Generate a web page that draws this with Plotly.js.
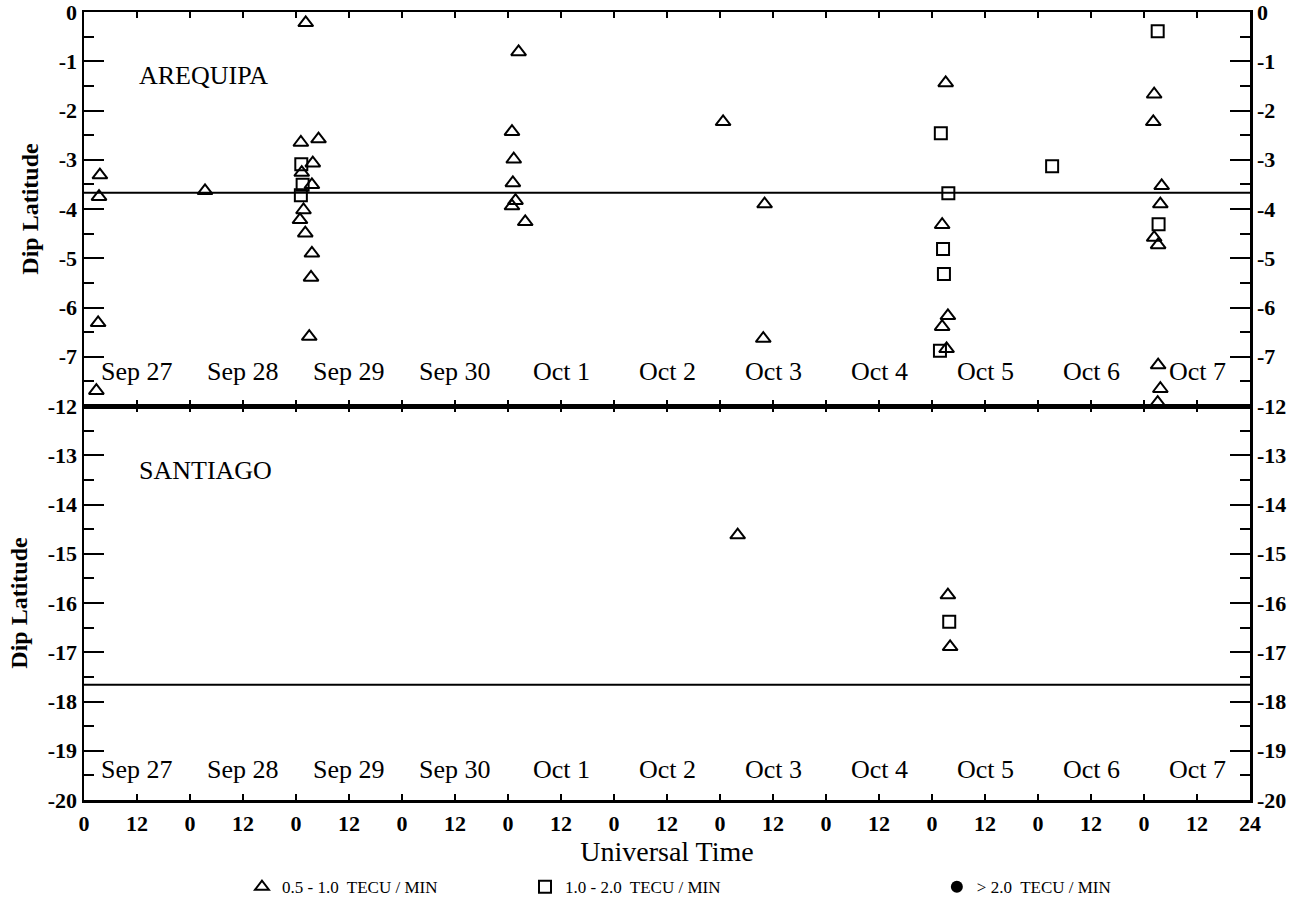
<!DOCTYPE html>
<html>
<head>
<meta charset="utf-8">
<script src="https://cdn.plot.ly/plotly-3.0.1.min.js"></script>
<style>
html,body{margin:0;padding:0;background:#fff;}
#chart{width:1303px;height:909px;}
</style>
</head>
<body>
<div id="chart"></div>
<script>
// ---- Data (hours since Sep 27 00 UT, dip latitude in degrees) ----
// Arequipa, 0.5 - 1.0 TECU/min (triangles)
const areqTriHours = [3.6, 3.4, 3.2, 2.8, 27.4, 50.2, 49.1, 53.1, 51.8, 49.3, 51.6, 49.7, 48.9, 50.1, 51.6, 51.4, 51.0,
  98.4, 96.9, 97.3, 97.1, 97.7, 96.9, 99.9, 144.7, 154.1, 153.8,
  195.1, 194.3, 195.6, 194.3, 195.3, 242.3, 242.1, 244.0, 243.7, 242.3, 243.2, 243.2, 243.7, 243.1];
const areqTriLat = [-3.31, -3.75, -6.31, -7.69, -3.63, -0.22, -2.65, -2.58, -3.07, -3.26, -3.51, -4.02, -4.22, -4.49, -4.90, -5.39, -6.59,
  -0.81, -2.43, -2.99, -3.47, -3.83, -3.94, -4.26, -2.23, -3.90, -6.63,
  -1.44, -4.32, -6.17, -6.39, -6.84, -1.67, -2.23, -3.53, -3.90, -4.58, -4.73, -7.17, -7.65, -7.93];
// Arequipa, 1.0 - 2.0 TECU/min (squares)
const areqSqHours = [49.2, 49.5, 49.1, 194.0, 195.7, 194.5, 194.7, 193.8, 219.2, 243.1, 243.3];
const areqSqLat = [-3.09, -3.51, -3.72, -2.46, -3.68, -4.81, -5.32, -6.88, -3.13, -0.39, -4.31];
// Santiago
const santTriHours = [148.0, 195.6, 196.1];
const santTriLat = [-14.62, -15.84, -16.89];
const santSqHours = [195.9];
const santSqLat = [-16.38];
// > 2.0 TECU/min: no events in either panel
const bigHours = [null];
const bigLat = [null];

// Axis tick labels
const hourTicks = [0,12,24,36,48,60,72,84,96,108,120,132,144,156,168,180,192,204,216,228,240,252,264];
const hourLabels = ['0','12','0','12','0','12','0','12','0','12','0','12','0','12','0','12','0','12','0','12','0','12','24'];
const topLatTicks = [0,-1,-2,-3,-4,-5,-6,-7];
const botLatTicks = [-12,-13,-14,-15,-16,-17,-18,-19,-20];
const dayLabels = ['Sep 27','Sep 28','Sep 29','Sep 30','Oct 1','Oct 2','Oct 3','Oct 4','Oct 5','Oct 6','Oct 7'];
const stationNames = ['AREQUIPA','SANTIAGO'];
// Reference latitude lines (station dip latitude)
const areqLine = -3.67;
const santLine = -17.66;

const FONT = 'Liberation Serif, Times New Roman, serif';

const triMarker = {symbol:'triangle-up-open', size:13, color:'#000', line:{width:2, color:'#000'}};
const sqMarker = {symbol:'square-open', size:12, color:'#000', line:{width:2, color:'#000'}};

const traces = [
  {x:areqTriHours, y:areqTriLat, xaxis:'x2', yaxis:'y', mode:'markers', type:'scatter', marker:triMarker,
   name:'0.5 - 1.0  TECU / MIN', legend:'legend', showlegend:true},
  {x:areqSqHours, y:areqSqLat, xaxis:'x2', yaxis:'y3', mode:'markers', type:'scatter', marker:sqMarker,
   name:'1.0 - 2.0  TECU / MIN', legend:'legend2', showlegend:true},
  {x:santTriHours, y:santTriLat, xaxis:'x', yaxis:'y2', mode:'markers', type:'scatter', marker:triMarker, showlegend:false},
  {x:santSqHours, y:santSqLat, xaxis:'x', yaxis:'y4', mode:'markers', type:'scatter', marker:sqMarker, showlegend:false},
  {x:bigHours, y:bigLat, xaxis:'x', yaxis:'y2', mode:'markers', type:'scatter',
   marker:{symbol:'circle', size:9, color:'#000'}, name:'> 2.0  TECU / MIN', legend:'legend3', showlegend:true}
];

const halfTop = topLatTicks.map(v => v - 0.5);
const halfBot = botLatTicks.slice(0, -1).map(v => v - 0.5);

function yAx(domain, range, vals, minorVals, side, anchor, extra) {
  return Object.assign({
    domain: domain, range: range, anchor: anchor, side: side,
    tickmode:'array', tickvals: vals, ticktext: vals.map(v => String(v)),
    ticks:'inside', ticklen:20, tickwidth:2, tickcolor:'#000',
    minor:{tickmode:'array', tickvals:minorVals, ticks:'inside', ticklen:10, tickwidth:2, tickcolor:'#000', showgrid:false},
    showline:true, linewidth:2.5, linecolor:'#000',
    showgrid:false, zeroline:false, fixedrange:true, ticklabeloverflow:'allow',
    tickfont:{family:FONT, size:22, color:'#000', weight:'bold'}
  }, extra || {});
}

const xCommon = {
  range:[0,264], tickmode:'array', tickvals:hourTicks, ticktext:hourLabels,
  ticks:'inside', ticklen:6, tickwidth:2, tickcolor:'#000',
  showline:true, linewidth:2.5, linecolor:'#000', mirror:'ticks',
  showgrid:false, zeroline:false, fixedrange:true
};

const annotations = [];
dayLabels.forEach((d, i) => {
  annotations.push({xref:'x2', yref:'y', x:12 + 24*i, y:-7.3, text:d, showarrow:false,
    font:{family:FONT, size:26, color:'#000'}, xanchor:'center', yanchor:'middle'});
  annotations.push({xref:'x', yref:'y2', x:12 + 24*i, y:-19.38, text:d, showarrow:false,
    font:{family:FONT, size:26, color:'#000'}, xanchor:'center', yanchor:'middle'});
});
annotations.push({xref:'x2', yref:'y', x:12, y:-1.28, text:stationNames[0], showarrow:false,
  font:{family:FONT, size:26, color:'#000'}, xanchor:'left', yanchor:'middle'});
annotations.push({xref:'x', yref:'y2', x:12, y:-13.3, text:stationNames[1], showarrow:false,
  font:{family:FONT, size:26, color:'#000'}, xanchor:'left', yanchor:'middle'});

const legendBase = {orientation:'h', xref:'container', yref:'container', yanchor:'middle', y:0.024, xanchor:'left',
  bgcolor:'rgba(0,0,0,0)', borderwidth:0, font:{family:FONT, size:17, color:'#000'}, itemsizing:'constant'};

const layout = {
  width:1303, height:909,
  margin:{l:84, r:53, t:12, b:109},
  paper_bgcolor:'#fff', plot_bgcolor:'#fff',
  font:{family:FONT, color:'#000'},
  xaxis: Object.assign({}, xCommon, {domain:[0,1], anchor:'y2', ticklabelstandoff:2,
    tickfont:{family:FONT, size:22, color:'#000', weight:'bold'},
    title:{text:'Universal Time', font:{family:FONT, size:28, color:'#000'}, standoff:6}}),
  xaxis2: Object.assign({}, xCommon, {domain:[0,1], anchor:'y', showticklabels:false}),
  yaxis: yAx([0.5,1], [-8,0], topLatTicks, halfTop, 'left', 'x2',
    {title:{text:'Dip Latitude', font:{family:FONT, size:24, color:'#000', weight:'bold'}, standoff:14}}),
  yaxis2: yAx([0,0.5], [-20,-12], botLatTicks, halfBot, 'left', 'x',
    {title:{text:'Dip Latitude', font:{family:FONT, size:24, color:'#000', weight:'bold'}, standoff:14}}),
  yaxis3: yAx([0.5,1], [-8,0], topLatTicks, halfTop, 'right', 'x2', {overlaying:'y'}),
  yaxis4: yAx([0,0.5], [-20,-12], botLatTicks, halfBot, 'right', 'x', {overlaying:'y2'}),
  shapes:[
    {type:'line', xref:'paper', x0:0, x1:1, yref:'y', y0:areqLine, y1:areqLine, line:{color:'#000', width:2}},
    {type:'line', xref:'paper', x0:0, x1:1, yref:'y2', y0:santLine, y1:santLine, line:{color:'#000', width:2}}
  ],
  annotations: annotations,
  legend: Object.assign({}, legendBase, {x:0.1857}),
  legend2: Object.assign({}, legendBase, {x:0.4029}),
  legend3: Object.assign({}, legendBase, {x:0.719}),
  showlegend:true
};

Plotly.newPlot('chart', traces, layout, {displayModeBar:false, staticPlot:true});
</script>
</body>
</html>
